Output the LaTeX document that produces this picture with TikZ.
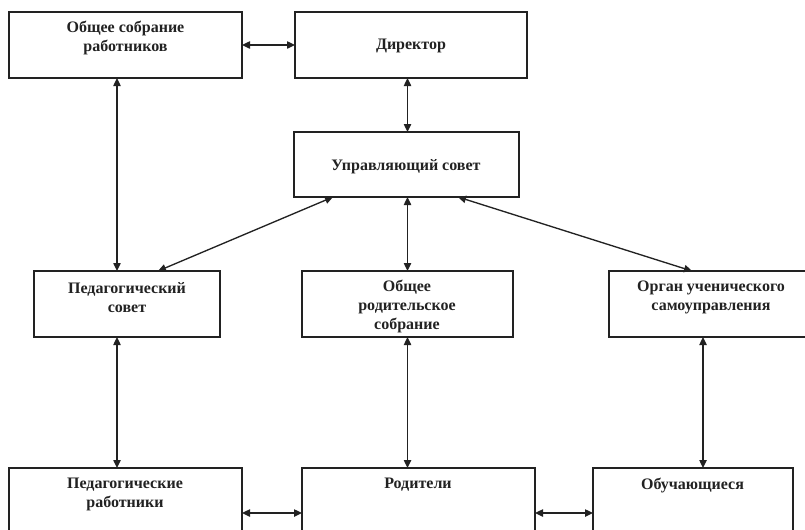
\documentclass[tikz,border=0pt]{standalone}
\usepackage{fontspec}
\setmainfont{Liberation Serif}
\usetikzlibrary{arrows.meta}
\definecolor{ink}{HTML}{222222}
\tikzset{
  boxst/.style={draw=ink, line width=1.3pt, rectangle, inner sep=0pt, outer sep=0pt},
  lbl/.style={text=ink, font=\fontsize{12}{14.25}\selectfont\bfseries, align=center, inner sep=0pt},
  arr/.style={draw=ink, line width=1pt, {Triangle[length=6pt,width=5.5pt]}-{Triangle[length=6pt,width=5.5pt]}}
}
\begin{document}
\begin{tikzpicture}[x=0.75pt,y=-0.75pt]
\clip (0,0) rectangle (805,529);
\fill[white] (0,0) rectangle (805,529);
% boxes
\node[boxst, minimum width=174.75pt, minimum height=49.5pt] (A) at (125.5,45) {};
\node[boxst, minimum width=174pt, minimum height=49.5pt] (B) at (411,45) {};
\node[boxst, minimum width=168.75pt, minimum height=48.75pt] (C) at (406.5,164.5) {};
\node[boxst, minimum width=139.5pt, minimum height=49.5pt] (D) at (127,304) {};
\node[boxst, minimum width=158.25pt, minimum height=49.5pt] (E) at (407.5,304) {};
\node[boxst, minimum width=152.25pt, minimum height=49.5pt] (F) at (710.5,304) {};
\node[boxst, minimum width=174.75pt, minimum height=57.75pt] (G) at (125.5,506.5) {};
\node[boxst, minimum width=174.75pt, minimum height=57.75pt] (H) at (418.5,506.5) {};
\node[boxst, minimum width=150pt, minimum height=57.75pt] (I) at (693,506.5) {};
% labels
\node[lbl] (tA) at (125.5,37.5) {Общее собрание\\работников};
\node[lbl] (tB) at (411,46) {Директор};
\node[lbl] (tC) at (406,167) {Управляющий совет};
\node[lbl] (tD) at (127,297.5) {Педагогический\\совет};
\node[lbl] (tE) at (407,306) {Общее\\родительское\\собрание};
\node[lbl] (tF) at (711,297.5) {Орган ученического\\самоуправления};
\node[lbl] (tG) at (125,494) {Педагогические\\работники};
\node[lbl] (tH) at (418,485) {Родители};
\node[lbl] (tI) at (692.5,485) {Обучающиеся};
% helper coordinates
\coordinate (xl) at (117,0);
\coordinate (xm) at (407.5,0);
\coordinate (xr) at (703,0);
\coordinate (xcd) at (333,0);
\coordinate (xdc) at (158,0);
\coordinate (xcf) at (458,0);
\coordinate (xfc) at (692,0);
\coordinate (yb) at (0,513);
% connectors
\draw[arr] (A.east) -- (B.west);
\draw[arr] (B.south -| xm) -- (C.north -| xm);
\draw[arr] (A.south -| xl) -- (D.north -| xl);
\draw[arr] (C.south -| xcd) -- (D.north -| xdc);
\draw[arr] (C.south -| xm) -- (E.north -| xm);
\draw[arr] (C.south -| xcf) -- (F.north -| xfc);
\draw[arr] (D.south -| xl) -- (G.north -| xl);
\draw[arr] (E.south -| xm) -- (H.north -| xm);
\draw[arr] (F.south -| xr) -- (I.north -| xr);
\draw[arr] (G.east |- yb) -- (H.west |- yb);
\draw[arr] (H.east |- yb) -- (I.west |- yb);
\end{tikzpicture}
\end{document}
